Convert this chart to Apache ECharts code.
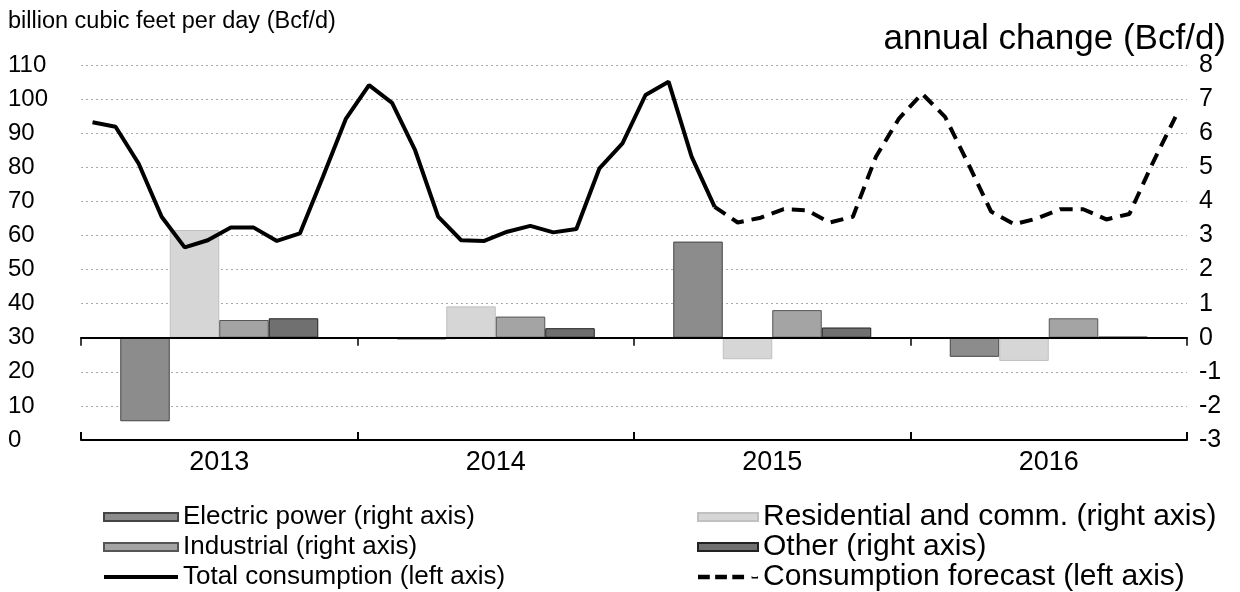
<!DOCTYPE html>
<html>
<head>
<meta charset="utf-8">
<title>Natural gas consumption</title>
<script src="https://cdn.jsdelivr.net/npm/echarts@6/dist/echarts.min.js"></script>
<style>
  html, body { margin: 0; padding: 0; background: #fff; }
  #chart { width: 1240px; height: 592px; }
</style>
</head>
<body>
<div id="chart"></div>
<script>
var years = ['2013', '2014', '2015', '2016'];
var monthNames = ['Jan', 'Feb', 'Mar', 'Apr', 'May', 'Jun', 'Jul', 'Aug', 'Sep', 'Oct', 'Nov', 'Dec'];

// total consumption, Jan 2013 - Apr 2015 (Bcf/d, left axis)
var totalConsumption = [
    93.2, 91.9, 81.1, 65.5, 56.5, 58.6, 62.3, 62.3, 58.4, 60.6, 77.2, 94.3,
    104.1, 98.9, 85.0, 65.5, 58.6, 58.4, 61.1, 62.8, 60.9, 61.9, 79.7, 87.0,
    101.2, 105.1, 83.1, 68.4
];
// forecast, Apr 2015 - Dec 2016 (Bcf/d, left axis)
var consumptionForecast = [
    68.4, 63.8, 65.2, 67.7, 67.4, 63.8, 65.5, 83.1, 94.3,
    101.6, 94.8, 81.1, 67.0, 63.3, 65.0, 67.7, 67.7, 64.7, 66.3, 81.1, 94.8
];

// annual change by sector (Bcf/d, right axis)
var electricPower = [-2.45, -0.05, 2.82, -0.56];
var residential = [3.16, 0.92, -0.63, -0.68];
var industrial = [0.52, 0.62, 0.81, 0.57];
var other = [0.57, 0.28, 0.30, 0.03];

var leftTicks = { min: 0, max: 110, interval: 10 };
var rightTicks = { min: -3, max: 8, interval: 1 };

var FONT = '"Liberation Sans", Arial, sans-serif';

var months = [];
years.forEach(function (y) {
    monthNames.forEach(function (m) { months.push(m + ' ' + y); });
});

var totalData = months.map(function (m, i) {
    return i < totalConsumption.length ? totalConsumption[i] : null;
});
var forecastStart = totalConsumption.length - 1;
var forecastData = months.map(function (m, i) {
    return i >= forecastStart ? consumptionForecast[i - forecastStart] : null;
});

var chart = echarts.init(document.getElementById('chart'));

var barSeries = function (name, data, color, border) {
    return {
        name: name,
        type: 'bar',
        xAxisIndex: 1,
        yAxisIndex: 1,
        barWidth: 49.5,
        barGap: '0%',
        data: data,
        itemStyle: { color: color, borderColor: border, borderWidth: 1 },
        emphasis: { disabled: true }
    };
};

// legend icons for the two lines (solid bar, and dashes with a dot)
var solidIcon = 'path://M0,0h74v4h-74z';
var dashIcon = 'path://M0,0h11v4h-11zM16,0h11v4h-11zM32,0h11v4h-11zM50,0.5a3,1.5 0 1,0 6,0v3h-6z';

var option = {
    backgroundColor: '#fff',
    animation: false,
    textStyle: { fontFamily: FONT, color: '#000' },
    title: [{
        text: 'billion cubic feet per day (Bcf/d)',
        left: 8, top: 10, padding: 0,
        textStyle: { fontFamily: FONT, fontSize: 23.5, fontWeight: 'normal', color: '#000' }
    }, {
        text: 'annual change (Bcf/d)',
        right: 14, top: 22, padding: 0,
        textStyle: { fontFamily: FONT, fontSize: 35, fontWeight: 'normal', color: '#000' }
    }],
    legend: [{
        orient: 'vertical',
        left: 103, top: 502, padding: 0,
        itemWidth: 74, itemHeight: 8, itemGap: 0,
        textStyle: { fontFamily: FONT, fontSize: 26, lineHeight: 30, color: '#000' },
        data: [
            { name: 'Electric power (right axis)', icon: 'rect' },
            { name: 'Industrial (right axis)', icon: 'rect' },
            { name: 'Total consumption (left axis)', icon: solidIcon }
        ]
    }, {
        orient: 'vertical',
        left: 697, top: 502, padding: 0,
        itemWidth: 60, itemHeight: 8, itemGap: 0,
        textStyle: { fontFamily: FONT, fontSize: 30, lineHeight: 30, color: '#000' },
        data: [
            { name: 'Residential and comm. (right axis)', icon: 'rect' },
            { name: 'Other (right axis)', icon: 'rect' },
            { name: 'Consumption forecast (left axis)', icon: dashIcon }
        ]
    }],
    grid: { left: 81, right: 53, top: 65, bottom: 152, containLabel: false },
    xAxis: [{
        // months, bottom axis
        type: 'category',
        data: months,
        position: 'bottom',
        boundaryGap: true,
        axisLine: { onZero: false, lineStyle: { color: '#000', width: 2 } },
        axisTick: { interval: 0, length: 7, lineStyle: { color: '#000', width: 1.5 } },
        axisLabel: { show: false },
        splitLine: { show: false }
    }, {
        // years, bottom axis labels and longer year ticks
        type: 'category',
        data: years,
        position: 'bottom',
        axisLine: { show: false, onZero: false },
        axisTick: { show: true, inside: true, length: 8, lineStyle: { color: '#000', width: 2 } },
        axisLabel: { fontFamily: FONT, fontSize: 27, color: '#000', margin: 9, lineHeight: 27 },
        splitLine: { show: false }
    }, {
        // zero line of the right axis
        type: 'category',
        data: years,
        position: 'bottom',
        z: 5,
        axisLine: { onZero: true, onZeroAxisIndex: 1, lineStyle: { color: '#000', width: 2 } },
        axisTick: { show: true, length: 8, lineStyle: { color: '#000', width: 1.5 } },
        axisLabel: { show: false },
        splitLine: { show: false }
    }],
    yAxis: [{
        type: 'value',
        position: 'left',
        min: leftTicks.min, max: leftTicks.max, interval: leftTicks.interval,
        axisLine: { show: false },
        axisTick: { show: false },
        axisLabel: { align: 'left', margin: 73, fontFamily: FONT, fontSize: 24, color: '#000' },
        splitLine: { show: true, lineStyle: { color: '#aaa', width: 1, type: [2, 3] } }
    }, {
        type: 'value',
        position: 'right',
        min: rightTicks.min, max: rightTicks.max, interval: rightTicks.interval,
        axisLine: { show: false },
        axisTick: { show: false },
        axisLabel: { margin: 12, fontFamily: FONT, fontSize: 25, color: '#000' },
        splitLine: { show: false }
    }],
    series: [
        barSeries('Electric power (right axis)', electricPower, '#8c8c8c', '#444'),
        barSeries('Residential and comm. (right axis)', residential, '#d6d6d6', '#c0c0c0'),
        barSeries('Industrial (right axis)', industrial, '#a4a4a4', '#555'),
        barSeries('Other (right axis)', other, '#707070', '#222'),
        {
            name: 'Total consumption (left axis)',
            type: 'line',
            xAxisIndex: 0,
            yAxisIndex: 0,
            data: totalData,
            symbol: 'none',
            z: 4,
            lineStyle: { color: '#000', width: 4 },
            itemStyle: { color: '#000' }
        },
        {
            name: 'Consumption forecast (left axis)',
            type: 'line',
            xAxisIndex: 0,
            yAxisIndex: 0,
            data: forecastData,
            symbol: 'none',
            z: 4,
            lineStyle: { color: '#000', width: 4, type: [13, 8] },
            itemStyle: { color: '#000' }
        }
    ]
};

chart.setOption(option);
</script>
</body>
</html>
